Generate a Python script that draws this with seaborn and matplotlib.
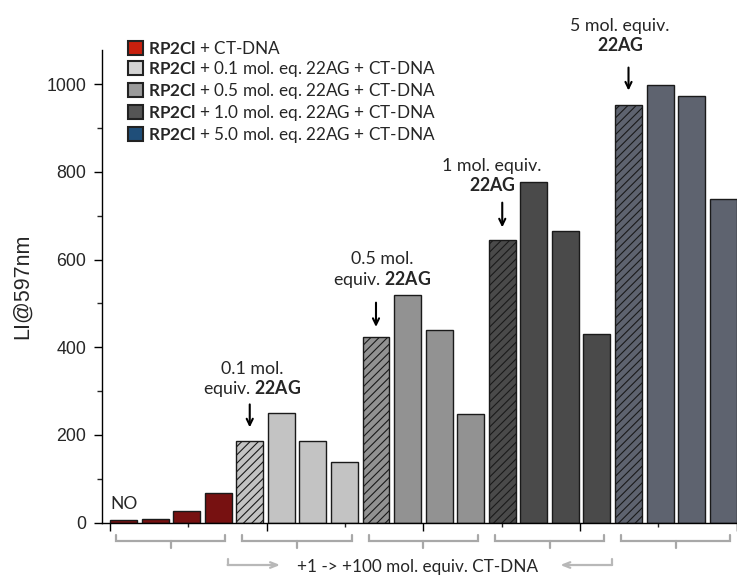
#!/usr/bin/env python3

import numpy as np
import pandas as pd
import seaborn as sns
import matplotlib
import matplotlib.pyplot as plt
import matplotlib.transforms as mtransforms
from matplotlib.patches import Patch

# five conditions, four CT-DNA additions each (+1 -> +100 mol. equiv.)
groups = ["RP2Cl + CT-DNA",
          "RP2Cl + 0.1 mol. eq. 22AG + CT-DNA",
          "RP2Cl + 0.5 mol. eq. 22AG + CT-DNA",
          "RP2Cl + 1.0 mol. eq. 22AG + CT-DNA",
          "RP2Cl + 5.0 mol. eq. 22AG + CT-DNA"]
legend_labels = [r"$\bf{RP2Cl}$ + CT-DNA",
                 r"$\bf{RP2Cl}$ + 0.1 mol. eq. 22AG + CT-DNA",
                 r"$\bf{RP2Cl}$ + 0.5 mol. eq. 22AG + CT-DNA",
                 r"$\bf{RP2Cl}$ + 1.0 mol. eq. 22AG + CT-DNA",
                 r"$\bf{RP2Cl}$ + 5.0 mol. eq. 22AG + CT-DNA"]
li_no_22ag = [5, 8, 27, 67]
li_eq_0_1 = [186, 251, 186, 138]
li_eq_0_5 = [423, 518, 440, 248]
li_eq_1_0 = [645, 776, 665, 431]
li_eq_5_0 = [953, 998, 972, 739]
annot_labels = ["0.1 mol.\nequiv. $\\bf{22AG}$",
                "0.5 mol.\nequiv. $\\bf{22AG}$",
                "1 mol. equiv.\n$\\bf{22AG}$",
                "5 mol. equiv.\n$\\bf{22AG}$"]
caption = "+1 -> +100 mol. equiv. CT-DNA"
ylabel = "LI@597nm"

bar_colors = ["#880000", "#C3C3C3", "#929292", "#4A4A4A", "#5B6272"]
legend_colors = ["#C8200E", "#D3D3D3", "#9A9A9A", "#555555", "#1F4E79"]
bracket_grey = "#A8A8A8"


def configure_seaborn():
  sns.set_style("ticks")
  # Arial-like for the axes, Calibri-like (Lato) for the annotations
  matplotlib.rcParams['font.family'] = ['Liberation Sans', 'DejaVu Sans']
  matplotlib.rcParams['mathtext.fontset'] = 'custom'
  matplotlib.rcParams['mathtext.rm'] = 'Lato'
  matplotlib.rcParams['mathtext.bf'] = 'Lato:bold'
  matplotlib.rcParams['mathtext.it'] = 'Lato:italic'
  matplotlib.rcParams['hatch.linewidth'] = 0.8


configure_seaborn()

values = [li_no_22ag, li_eq_0_1, li_eq_0_5, li_eq_1_0, li_eq_5_0]
df = pd.DataFrame({
    'pos': np.arange(20),
    'li': np.concatenate(values),
    'cond': np.repeat(groups, 4),
})

fig = plt.figure(figsize=(7.37, 5.78), dpi=100)
ax = fig.add_axes([0.138, 0.0957, 0.8634, 0.818])

sns.barplot(data=df, x='pos', y='li', hue='cond', hue_order=groups,
            palette=bar_colors, dodge=False, width=0.855, legend=False,
            edgecolor='#1A1A1A', linewidth=1.0, ax=ax)

# first bar of every 22AG group is hatched
for p in ax.patches:
    i = int(round(p.get_x() + p.get_width() / 2))
    if i % 4 == 0 and i > 0:
        p.set_hatch('////')

ax.set_xlim(-0.69, 19.47)
ax.set_ylim(0, 1078)
ax.set_xlabel("")
ax.set_ylabel(ylabel, fontsize=15.5, labelpad=10)
ax.set_yticks(np.arange(0, 1001, 200))
ax.set_yticks(np.arange(100, 1001, 200), minor=True)
xt = np.linspace(-0.4275, 19.4275, 5)
ax.set_xticks(xt)
ax.set_xticks((xt[:-1] + xt[1:]) / 2, minor=True)
ax.set_xticklabels([])
ax.tick_params(axis='y', labelsize=12.8, length=6, width=1, pad=5, color='k')
ax.tick_params(axis='y', which='minor', length=3.5, width=1)
ax.tick_params(axis='x', length=5.5, width=1, color='k')
ax.tick_params(axis='x', which='minor', length=3, width=1)
sns.despine(ax=ax)
for s in ['left', 'bottom']:
    ax.spines[s].set_color('k')
    ax.spines[s].set_linewidth(1.0)

# annotations above the hatched bars
txt_pos = [(4.08, 325), (8.2, 575), (11.68, 790), (15.73, 1110)]
arrows = [(4, 276, 211), (8, 508, 440), (12, 736, 667), (16, 1044, 979)]
for lab, (tx, ty) in zip(annot_labels, txt_pos):
    ax.text(tx, ty, lab, ha='center', va='center', fontsize=12.8,
            family='Lato', linespacing=1.1, clip_on=False)
for x, y0, y1 in arrows:
    ax.annotate("", xy=(x, y1), xytext=(x, y0), annotation_clip=False,
                arrowprops=dict(arrowstyle='->,head_length=0.45,head_width=0.22',
                                color='k', lw=1.5))
ax.text(0.03, 43, "NO", ha='center', va='center', fontsize=12.5, family='Lato')

# grey brackets under each group of four
trans = mtransforms.blended_transform_factory(ax.transData, ax.transAxes)
for g in range(5):
    c = 4 * g + 1.5
    x0, x1 = c - 1.73, c + 1.73
    ax.plot([x0, x0, x1, x1], [-0.026, -0.0387, -0.0387, -0.026], color=bracket_grey,
            lw=1.6, transform=trans, clip_on=False, solid_joinstyle='miter')
    ax.plot([c, c], [-0.0387, -0.0535], color=bracket_grey, lw=1.6,
            transform=trans, clip_on=False)

ax.text(9.32, -0.094, caption, ha='center', va='center', fontsize=12.3,
        family='Lato', transform=trans)
arrow_grey = '#B8B8B8'
for xs, xe in [(3.30, 4.96), (15.48, 13.84)]:
    ax.plot([xs, xs], [-0.077, -0.0895], color=arrow_grey, lw=1.6,
            transform=trans, clip_on=False)
    ax.annotate("", xy=(xe, -0.0895), xytext=(xs, -0.0895), xycoords=trans,
                textcoords=trans, annotation_clip=False,
                arrowprops=dict(arrowstyle='->,head_length=0.5,head_width=0.2',
                                color=arrow_grey, lw=1.6, shrinkA=0, shrinkB=0))

handles = [Patch(facecolor=c, edgecolor='#222222', linewidth=1.5) for c in legend_colors]
ax.legend(handles, legend_labels, loc='upper left',
          bbox_to_anchor=(127.7 / 737, 1 - 40 / 578), bbox_transform=fig.transFigure,
          frameon=False, borderpad=0, borderaxespad=0,
          prop={'family': 'Lato', 'size': 12.3},
          handlelength=0.88, handleheight=0.88, handletextpad=0.3,
          labelspacing=0.12)

fig.savefig("out.png", dpi=100)
plt.close(fig)
